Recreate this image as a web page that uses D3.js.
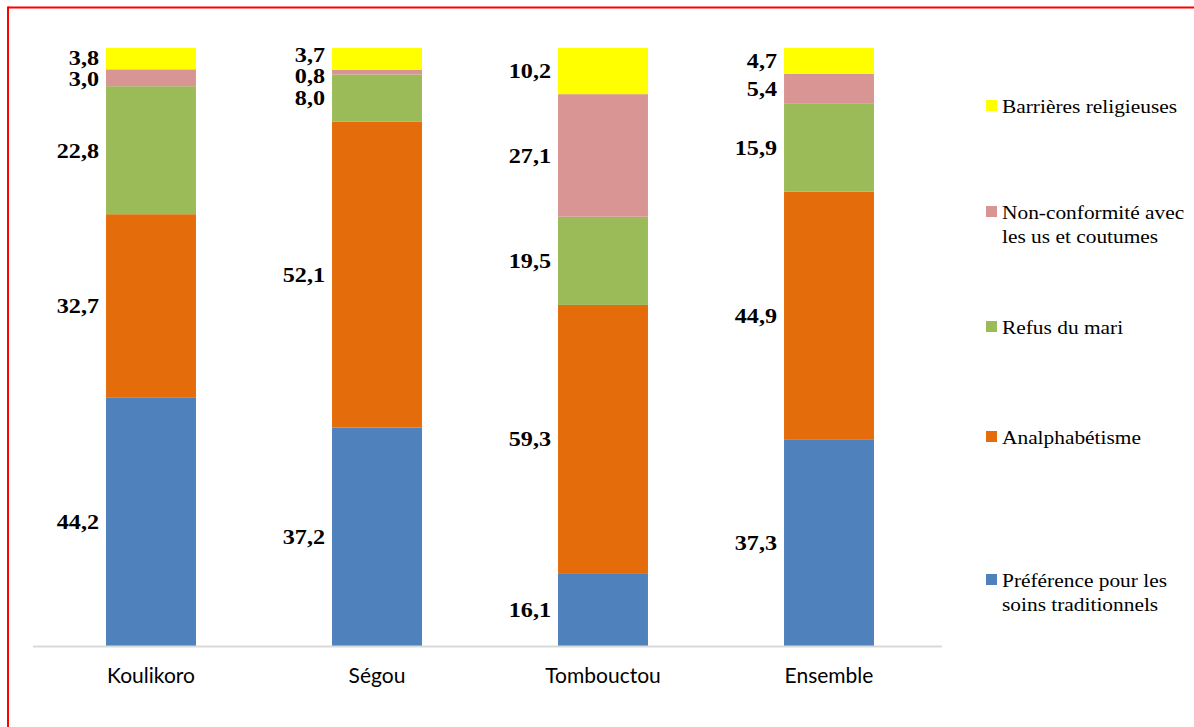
<!DOCTYPE html>
<html lang="fr">
<head>
<meta charset="utf-8">
<script src="https://cdn.jsdelivr.net/npm/d3@7"></script>
<style>
  html, body { margin: 0; padding: 0; background: #fff; }
  svg { display: block; }
</style>
</head>
<body>
<svg id="chart" width="1194" height="727"></svg>
<script>
// Regions and causes (bottom to top of each stacked bar)
const regions = ["Koulikoro", "Ségou", "Tombouctou", "Ensemble"];
const causes = [
  "Préférence pour les soins traditionnels",
  "Analphabétisme",
  "Refus du mari",
  "Non-conformité avec les us et coutumes",
  "Barrières religieuses"
];
// Values per cause, in region order
const preference     = [44.2, 37.2, 16.1, 37.3];
const analphabetisme = [32.7, 52.1, 59.3, 44.9];
const refusMari      = [22.8,  8.0, 19.5, 15.9];
const nonConformite  = [ 3.0,  0.8, 27.1,  5.4];
const barrieres      = [ 3.8,  3.7, 10.2,  4.7];
// Legend labels (split into lines)
const legendLines = [
  ["Barrières religieuses"],
  ["Non-conformité avec", "les us et coutumes"],
  ["Refus du mari"],
  ["Analphabétisme"],
  ["Préférence pour les", "soins traditionnels"]
];

const seriesValues = [preference, analphabetisme, refusMari, nonConformite, barrieres];
const colors = ["#4f81bd", "#e46c0a", "#9bbb59", "#d99594", "#ffff00"];
const serifFont = "Liberation Serif, Tinos, Times New Roman, DejaVu Serif, serif";
const stretch = 1.15; // serif texts are set slightly wide

const rows = regions.map((r, i) => {
  const row = { region: r };
  causes.forEach((c, k) => { row[c] = seriesValues[k][i]; });
  return row;
});

const stack = d3.stack().keys(causes).offset(d3.stackOffsetExpand);
const stacked = stack(rows);

const svg = d3.select("#chart");

// Frame lines (top and left)
svg.append("line").attr("x1", 8).attr("x2", 1194).attr("y1", 7.5).attr("y2", 7.5)
  .attr("stroke", "#ff0000").attr("stroke-width", 2);
svg.append("line").attr("x1", 8).attr("x2", 8).attr("y1", 6.5).attr("y2", 727)
  .attr("stroke", "#ff0000").attr("stroke-width", 2);

const x = d3.scaleBand().domain(regions).range([38, 942]).paddingInner(0.602).paddingOuter(0.301);
const y = d3.scaleLinear().domain([0, 1]).range([646, 48]);

// Bars
const layers = svg.append("g").selectAll("g").data(stacked).join("g")
  .attr("fill", (d, i) => colors[i]);
layers.selectAll("rect").data(d => d.map(p => ({ p, region: p.data.region }))).join("rect")
  .attr("x", d => x(d.region))
  .attr("width", x.bandwidth())
  .attr("y", d => y(d.p[1]))
  .attr("height", d => y(d.p[0]) - y(d.p[1]));

// Category axis
const xAxis = svg.append("g").attr("transform", "translate(0,646)")
  .call(d3.axisBottom(x).tickSize(0).tickPadding(22));
xAxis.select(".domain").attr("d", "M33,0.5H942").attr("stroke", "#d9d9d9").attr("stroke-width", 2);
xAxis.selectAll("text")
  .style("font-family", "Lato, 'Noto Sans', sans-serif")
  .style("font-size", "21px").attr("fill", "#000");

// Value labels, left of each segment; close labels are spread apart
const labelSize = 21;
const labelG = svg.append("g")
  .style("font-family", serifFont)
  .style("font-weight", "bold").style("font-size", labelSize + "px").attr("fill", "#000")
  .attr("text-anchor", "end");

const minGap = labelSize;
regions.forEach((r, i) => {
  const items = stacked.map((layer, k) => ({
    v: seriesValues[k][i],
    y: (y(layer[i][0]) + y(layer[i][1])) / 2
  }));
  for (let iter = 0; iter < 50; iter++) {
    let moved = false;
    for (let k = 0; k < items.length - 1; k++) {
      const lo = items[k], hi = items[k + 1];
      const gap = lo.y - hi.y;
      if (gap < minGap) {
        const shift = (minGap - gap) / 2;
        lo.y += shift; hi.y -= shift; moved = true;
      }
    }
    if (!moved) break;
  }
  items.forEach(it => {
    labelG.append("text")
      .attr("transform", `translate(${x(r) - 7},${it.y}) scale(${stretch},1)`)
      .attr("dy", "0.35em")
      .text(d3.format(".1f")(it.v).replace(".", ","));
  });
});

// Legend
const legendY = [106, 212, 327, 437, 580];
const legend = svg.append("g")
  .style("font-family", serifFont)
  .style("font-size", "18.6px").attr("fill", "#000");
legendLines.forEach((lines, j) => {
  const g = legend.append("g").attr("transform", `translate(986,${legendY[j]})`);
  g.append("rect").attr("x", 0).attr("y", -6).attr("width", 11).attr("height", 11)
    .attr("fill", colors[colors.length - 1 - j]);
  lines.forEach((t, li) => {
    g.append("text")
      .attr("transform", `translate(16,${li * 24}) scale(${stretch},1)`)
      .attr("dy", "0.35em").text(t);
  });
});
</script>
</body>
</html>
